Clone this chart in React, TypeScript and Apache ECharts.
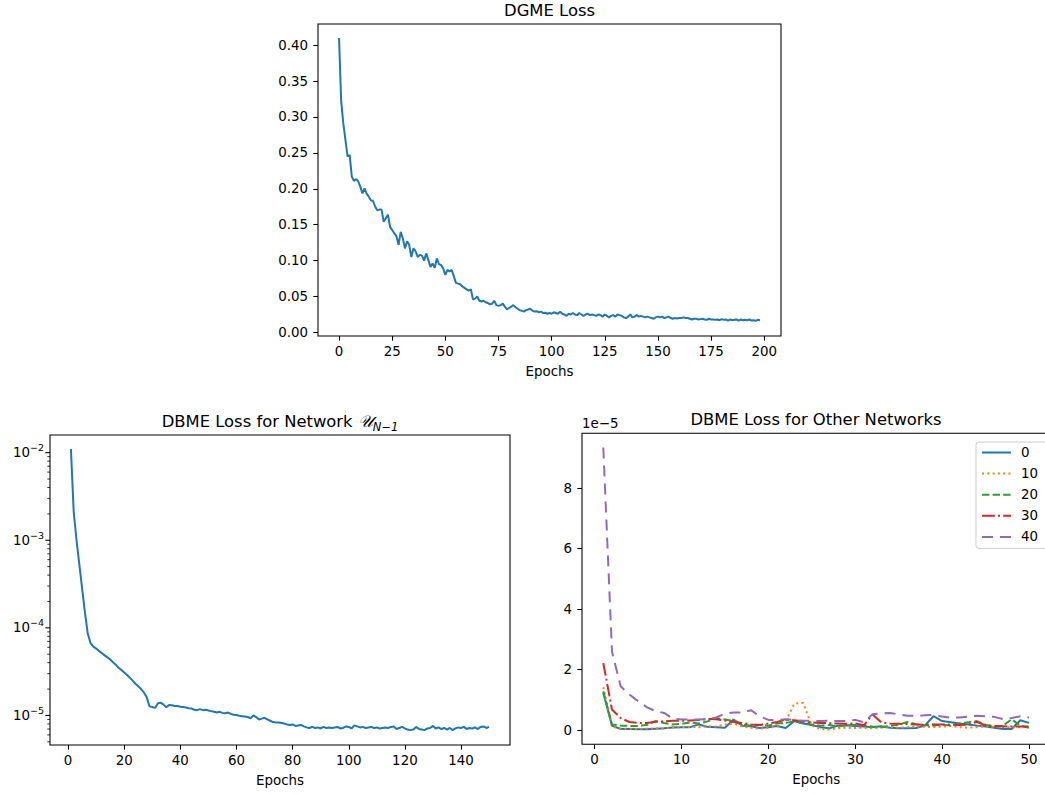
import React, { useEffect, useRef } from 'react';
import * as echarts from 'echarts';

// ---------- DGME loss (epochs 0..198) ----------
const DGME_LOSS = [
  0.410, 0.322, 0.291, 0.268, 0.245, 0.247, 0.217, 0.211, 0.2135, 0.2105,
  0.203, 0.1935, 0.2005, 0.193, 0.189, 0.184, 0.183, 0.175, 0.170, 0.171,
  0.171, 0.154, 0.159, 0.164, 0.147, 0.1425, 0.138, 0.134, 0.122, 0.140,
  0.131, 0.117, 0.127, 0.122, 0.105, 0.117, 0.113, 0.105, 0.108, 0.107,
  0.100, 0.110, 0.101, 0.091, 0.096, 0.090, 0.103, 0.095, 0.094, 0.089,
  0.080, 0.087, 0.085, 0.087, 0.078, 0.069, 0.068, 0.067, 0.064, 0.062,
  0.060, 0.058, 0.060, 0.046, 0.047, 0.050, 0.044, 0.043, 0.044, 0.042,
  0.041, 0.039, 0.040, 0.044, 0.038, 0.037, 0.038, 0.040, 0.036, 0.032,
  0.034, 0.036, 0.038, 0.035, 0.033, 0.031, 0.030, 0.029, 0.031, 0.032,
  0.033, 0.030, 0.029, 0.0295, 0.028, 0.029, 0.027, 0.0275, 0.026, 0.027,
  0.026, 0.028, 0.027, 0.026, 0.029, 0.026, 0.025, 0.023, 0.026, 0.025,
  0.027, 0.025, 0.024, 0.027, 0.025, 0.023, 0.025, 0.026, 0.024, 0.025,
  0.024, 0.023, 0.025, 0.024, 0.022, 0.025, 0.023, 0.021, 0.023, 0.024,
  0.022, 0.025, 0.024, 0.023, 0.021, 0.020, 0.022, 0.025, 0.021, 0.022,
  0.024, 0.022, 0.023, 0.022, 0.021, 0.022, 0.021, 0.020, 0.019, 0.021,
  0.022, 0.021, 0.022, 0.020, 0.021, 0.022, 0.020, 0.019, 0.020, 0.0195,
  0.020, 0.020, 0.021, 0.020, 0.020, 0.019, 0.018, 0.019, 0.019, 0.018,
  0.0185, 0.019, 0.018, 0.0175, 0.019, 0.018, 0.018, 0.0175, 0.018, 0.017,
  0.0185, 0.0175, 0.018, 0.0165, 0.018, 0.017, 0.0175, 0.018, 0.0165, 0.018,
  0.017, 0.0175, 0.017, 0.018, 0.0165, 0.017, 0.016, 0.0175, 0.017,
];
const DGME_X_TICKS = [0, 25, 50, 75, 100, 125, 150, 175, 200];
const DGME_Y_TICKS = [0, 0.05, 0.1, 0.15, 0.2, 0.25, 0.3, 0.35, 0.4];

// ---------- DBME loss for network U_{N-1} (epochs 1..150) ----------
const NET_LOSS = [
  1.1e-2, 2.1e-3, 1.0e-3, 5.3e-4, 2.8e-4, 1.5e-4, 8.6e-5, 6.7e-5, 6.1e-5, 5.8e-5,
  5.45e-5, 5.15e-5, 4.85e-5, 4.6e-5, 4.35e-5, 4.05e-5, 3.8e-5, 3.5e-5, 3.3e-5, 3.1e-5,
  2.9e-5, 2.7e-5, 2.5e-5, 2.3e-5, 2.15e-5, 2.0e-5, 1.83e-5, 1.62e-5, 1.27e-5, 1.25e-5,
  1.22e-5, 1.38e-5, 1.40e-5, 1.33e-5, 1.24e-5, 1.32e-5, 1.31e-5, 1.28e-5, 1.28e-5, 1.26e-5,
  1.25e-5, 1.23e-5, 1.21e-5, 1.20e-5, 1.16e-5, 1.15e-5, 1.18e-5, 1.15e-5, 1.16e-5, 1.14e-5,
  1.12e-5, 1.10e-5, 1.08e-5, 1.10e-5, 1.07e-5, 1.06e-5, 1.08e-5, 1.04e-5, 1.02e-5, 1.01e-5,
  0.99e-5, 0.98e-5, 0.97e-5, 0.96e-5, 0.93e-5, 1.0e-5, 0.96e-5, 0.90e-5, 0.92e-5, 0.94e-5,
  0.90e-5, 0.87e-5, 0.84e-5, 0.83e-5, 0.83e-5, 0.82e-5, 0.81e-5, 0.79e-5, 0.78e-5, 0.79e-5,
  0.76e-5, 0.77e-5, 0.78e-5, 0.75e-5, 0.73e-5, 0.72e-5, 0.74e-5, 0.72e-5, 0.73e-5, 0.71e-5,
  0.74e-5, 0.72e-5, 0.73e-5, 0.72e-5, 0.73e-5, 0.74e-5, 0.71e-5, 0.72e-5, 0.75e-5, 0.74e-5,
  0.71e-5, 0.77e-5, 0.75e-5, 0.73e-5, 0.74e-5, 0.72e-5, 0.73e-5, 0.74e-5, 0.72e-5, 0.73e-5,
  0.71e-5, 0.72e-5, 0.73e-5, 0.72e-5, 0.74e-5, 0.75e-5, 0.70e-5, 0.72e-5, 0.74e-5, 0.71e-5,
  0.69e-5, 0.68e-5, 0.69e-5, 0.74e-5, 0.70e-5, 0.69e-5, 0.68e-5, 0.71e-5, 0.72e-5, 0.76e-5,
  0.71e-5, 0.73e-5, 0.70e-5, 0.72e-5, 0.69e-5, 0.72e-5, 0.68e-5, 0.71e-5, 0.73e-5, 0.72e-5,
  0.74e-5, 0.70e-5, 0.72e-5, 0.71e-5, 0.73e-5, 0.70e-5, 0.74e-5, 0.75e-5, 0.72e-5, 0.74e-5,
];
const NET_X_TICKS = [0, 20, 40, 60, 80, 100, 120, 140];
const NET_Y_MAJOR = [1e-5, 1e-4, 1e-3, 1e-2];
const NET_Y_MINOR = [
  5e-6, 6e-6, 7e-6, 8e-6, 9e-6,
  2e-5, 3e-5, 4e-5, 5e-5, 6e-5, 7e-5, 8e-5, 9e-5,
  2e-4, 3e-4, 4e-4, 5e-4, 6e-4, 7e-4, 8e-4, 9e-4,
  2e-3, 3e-3, 4e-3, 5e-3, 6e-3, 7e-3, 8e-3, 9e-3,
];

// ---------- DBME loss for other networks (epochs 1..50, in units of 1e-5) ----------
const OTHER_NAMES = ['0', '10', '20', '30', '40'];
const OTHER_0 = [
  1.24, 0.15, 0.04, 0.04, 0.03, 0.03, 0.05, 0.06, 0.09, 0.10,
  0.10, 0.19, 0.11, 0.10, 0.08, 0.35, 0.15, 0.13, 0.07, 0.10,
  0.14, 0.07, 0.30, 0.22, 0.17, 0.10, 0.06, 0.15, 0.16, 0.14,
  0.12, 0.10, 0.13, 0.08, 0.06, 0.06, 0.07, 0.15, 0.46, 0.30,
  0.26, 0.22, 0.19, 0.15, 0.12, 0.08, 0.04, 0.04, 0.33, 0.24,
];
const OTHER_10 = [
  1.42, 0.12, 0.05, 0.05, 0.04, 0.05, 0.06, 0.05, 0.10, 0.10,
  0.11, 0.10, 0.12, 0.12, 0.19, 0.22, 0.12, 0.08, 0.05, 0.08,
  0.12, 0.30, 0.88, 0.90, 0.15, 0.04, 0.02, 0.06, 0.08, 0.07,
  0.08, 0.06, 0.09, 0.10, 0.08, 0.10, 0.12, 0.11, 0.10, 0.12,
  0.14, 0.10, 0.08, 0.10, 0.12, 0.11, 0.10, 0.09, 0.10, 0.11,
];
const OTHER_20 = [
  1.29, 0.19, 0.15, 0.14, 0.14, 0.17, 0.30, 0.24, 0.19, 0.21,
  0.26, 0.22, 0.29, 0.40, 0.35, 0.30, 0.19, 0.15, 0.18, 0.15,
  0.22, 0.24, 0.29, 0.24, 0.19, 0.15, 0.17, 0.12, 0.16, 0.18,
  0.16, 0.12, 0.10, 0.14, 0.18, 0.27, 0.20, 0.16, 0.15, 0.18,
  0.15, 0.22, 0.26, 0.30, 0.18, 0.12, 0.14, 0.36, 0.15, 0.08,
];
const OTHER_30 = [
  2.22, 0.68, 0.40, 0.27, 0.24, 0.24, 0.28, 0.29, 0.31, 0.31,
  0.32, 0.34, 0.37, 0.36, 0.32, 0.27, 0.24, 0.19, 0.17, 0.22,
  0.27, 0.35, 0.33, 0.29, 0.26, 0.24, 0.23, 0.22, 0.21, 0.22,
  0.16, 0.52, 0.26, 0.22, 0.21, 0.20, 0.19, 0.18, 0.19, 0.19,
  0.18, 0.17, 0.18, 0.27, 0.16, 0.14, 0.13, 0.12, 0.12, 0.12,
];
const OTHER_40 = [
  9.34, 2.60, 1.45, 1.18, 0.96, 0.76, 0.63, 0.57, 0.38, 0.35,
  0.35, 0.35, 0.36, 0.42, 0.55, 0.58, 0.58, 0.66, 0.46, 0.34,
  0.34, 0.36, 0.33, 0.31, 0.31, 0.30, 0.31, 0.30, 0.30, 0.34,
  0.26, 0.53, 0.55, 0.57, 0.52, 0.48, 0.47, 0.49, 0.50, 0.45,
  0.41, 0.42, 0.45, 0.48, 0.46, 0.44, 0.37, 0.40, 0.46, 0.42,
];
const OTHER_VALUES = [OTHER_0, OTHER_10, OTHER_20, OTHER_30, OTHER_40];
const OTHER_X_TICKS = [0, 10, 20, 30, 40, 50];
const OTHER_Y_TICKS = [0, 2, 4, 6, 8];

const COLORS = ['#1f77b4', '#ff7f0e', '#2ca02c', '#d62728', '#9467bd'];
const DASHES: any[] = ['solid', [2, 3.3], [7.4, 3.2], [12.8, 3.2, 2, 3.2], [11, 7]];

const TEXT = '#000';
const FS = 13.4;
const TICK = { show: true, length: 4.7, lineStyle: { color: '#000', width: 1.07 } };

function linAxisX(gridIndex: number, min: number, max: number, ticks: number[]) {
  return {
    type: 'value', gridIndex, min, max,
    axisLine: { show: false, onZero: false },
    splitLine: { show: false },
    axisTick: { ...TICK, customValues: ticks },
    axisLabel: { customValues: ticks, margin: 9, fontSize: FS, color: TEXT },
    name: 'Epochs', nameLocation: 'middle', nameGap: 29,
    nameTextStyle: { fontSize: FS, color: TEXT },
  };
}

export default function App() {
  const ref = useRef<HTMLDivElement>(null);
  useEffect(() => {
    if (!ref.current) return;
    const chart = echarts.init(ref.current, undefined, { renderer: 'svg' });
    const gridBase = { show: true, borderColor: '#000', borderWidth: 1.07, containLabel: false };
    const titleStyle = { fontSize: 16.4, fontWeight: 'normal', color: TEXT };
    const option: any = {
      animation: false,
      backgroundColor: '#fff',
      textStyle: { fontFamily: 'DejaVu Sans' },
      title: [
        { text: 'DGME Loss', left: 549.5, top: 2, padding: 0, textAlign: 'center', textStyle: titleStyle },
        { text: '{n|DBME Loss for Network }{u|𝒰}{sub|N−1}', left: 280, top: 409, padding: 0, textAlign: 'center',
          textStyle: {
            ...titleStyle,
            rich: {
              n: { fontSize: 16.4, color: TEXT, lineHeight: 24, fontFamily: 'DejaVu Sans' },
              u: { fontSize: 16.4, color: TEXT, lineHeight: 24, fontFamily: 'DejaVu Serif', fontStyle: 'italic' },
              sub: { fontSize: 11.5, color: TEXT, lineHeight: 12, verticalAlign: 'bottom', fontStyle: 'italic', fontFamily: 'DejaVu Sans' },
            },
          } },
        { text: 'DBME Loss for Other Networks', left: 816, top: 411.5, padding: 0, textAlign: 'center', textStyle: titleStyle },
      ],
      grid: [
        { ...gridBase, left: 318, top: 24, width: 463, height: 312 },
        { ...gridBase, left: 50, top: 435, width: 460, height: 310 },
        { ...gridBase, left: 582, top: 433.3, width: 468.3, height: 311 },
      ],
      xAxis: [
        linAxisX(0, -9.9, 207.9, DGME_X_TICKS),
        linAxisX(1, -6.45, 157.45, NET_X_TICKS),
        linAxisX(2, -1.45, 52.45, OTHER_X_TICKS),
      ],
      yAxis: [
        {
          type: 'value', gridIndex: 0, min: -0.005, max: 0.4295,
          axisLine: { show: false, onZero: false }, splitLine: { show: false },
          axisTick: { ...TICK, customValues: DGME_Y_TICKS },
          axisLabel: { customValues: DGME_Y_TICKS, margin: 10, fontSize: FS, color: TEXT,
            formatter: (v: number) => v.toFixed(2) },
        },
        {
          type: 'log', logBase: 10, gridIndex: 1, min: 4.6e-6, max: 0.0159,
          axisLine: { show: false, onZero: false }, splitLine: { show: false }, minorTick: { show: false },
          axisTick: { show: false },
          axisLabel: {
            margin: 6, showMinLabel: false, showMaxLabel: false, color: TEXT,
            formatter: (v: number) => `{b|10}{s|−${-Math.round(Math.log10(v))}}`,
            rich: {
              b: { fontSize: FS, color: TEXT, lineHeight: 20, fontFamily: 'DejaVu Sans' },
              s: { fontSize: 9.5, color: TEXT, lineHeight: 10, verticalAlign: 'top', fontFamily: 'DejaVu Sans' },
            },
          },
        },
        {
          type: 'value', gridIndex: 2, min: -0.467, max: 9.81,
          axisLine: { show: false, onZero: false }, splitLine: { show: false },
          axisTick: { ...TICK, customValues: OTHER_Y_TICKS },
          axisLabel: { customValues: OTHER_Y_TICKS, margin: 10, fontSize: FS, color: TEXT },
          name: '1e−5', nameLocation: 'end', nameGap: 3,
          nameTextStyle: { fontSize: FS, color: TEXT, align: 'left', verticalAlign: 'bottom' },
        },
      ],
      legend: {
        data: OTHER_NAMES,
        orient: 'vertical',
        left: 976, top: 442,
        padding: [4, 20, 5, 5],
        itemWidth: 29, itemHeight: 14, itemGap: 8.1,
        itemStyle: { opacity: 0 },
        backgroundColor: 'rgba(255,255,255,0.8)',
        borderColor: '#cccccc', borderWidth: 1, borderRadius: 3,
        textStyle: { fontSize: FS, color: TEXT, padding: [0, 0, 0, 5] },
      },
      series: [
        {
          type: 'line', xAxisIndex: 0, yAxisIndex: 0, showSymbol: false, symbol: 'none',
          data: DGME_LOSS.map((v, i) => [i, v]),
          lineStyle: { color: COLORS[0], width: 2 }, itemStyle: { color: COLORS[0] },
        },
        {
          type: 'line', xAxisIndex: 1, yAxisIndex: 1, showSymbol: false, symbol: 'none',
          data: NET_LOSS.map((v, i) => [i + 1, v]),
          lineStyle: { color: COLORS[0], width: 2 }, itemStyle: { color: COLORS[0] },
        },
        {
          type: 'custom', xAxisIndex: 1, yAxisIndex: 1, silent: true, clip: false, z: 10,
          encode: { x: 0, y: 1 },
          data: [...NET_Y_MAJOR.map((v) => [1, v, 1]), ...NET_Y_MINOR.map((v) => [1, v, 0])],
          renderItem: (params: any, api: any) => {
            const major = api.value(2) === 1;
            const pt = api.coord([api.value(0), api.value(1)]);
            const x0 = params.coordSys.x;
            const len = major ? 4.7 : 2.7;
            return {
              type: 'line',
              shape: { x1: x0 - len, y1: pt[1], x2: x0, y2: pt[1] },
              style: { stroke: '#000', lineWidth: major ? 1.07 : 0.8 },
            };
          },
        },
        ...OTHER_VALUES.map((vals, k) => ({
          name: OTHER_NAMES[k],
          type: 'line', xAxisIndex: 2, yAxisIndex: 2, showSymbol: false, symbol: 'none',
          data: vals.map((v, i) => [i + 1, v]),
          lineStyle: { color: COLORS[k], width: 2, type: DASHES[k] },
          itemStyle: { color: COLORS[k] },
        })),
      ],
    };
    chart.setOption(option);
    return () => chart.dispose();
  }, []);
  return (
    <div
      ref={ref}
      style={{ position: 'fixed', left: 0, top: 0, width: 1060, height: 794, background: '#fff' }}
    />
  );
}
